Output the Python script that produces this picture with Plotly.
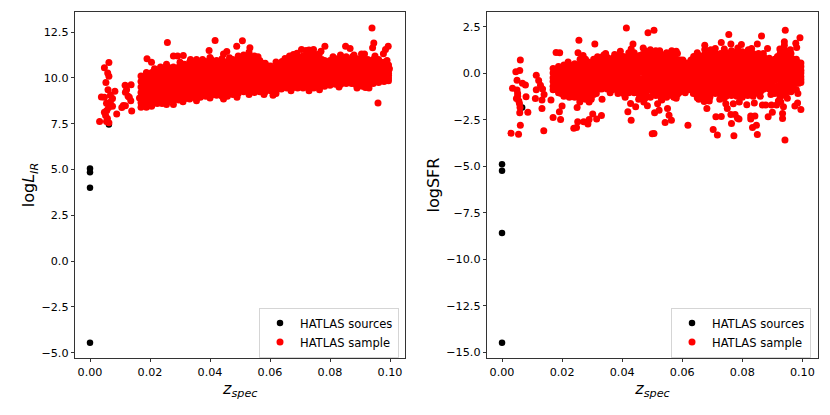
#!/usr/bin/env python3
"""HATLAS sample: logL_IR and logSFR against spectroscopic redshift."""

import plotly.graph_objects as go

W, H = 830, 415

# full catalogue, mostly hidden under the sample
z_src_lir = [0.0, 0.0, 0.0, 0.0, 0.0063]
lir_src = [5.05, 4.85, 4.0, -4.45, 7.45]
z_src_sfr = [0.0, 0.0, 0.0, 0.0, 0.0067]
sfr_src = [-4.9, -5.25, -8.6, -14.5, -1.85]

# dense band of the sample, one entry per redshift column
z_band = [
    0.0170, 0.0188, 0.0206, 0.0224, 0.0242, 0.0260, 0.0278, 0.0296, 0.0314, 0.0332,
    0.0350, 0.0368, 0.0386, 0.0404, 0.0422, 0.0440, 0.0458, 0.0476, 0.0494, 0.0512,
    0.0530, 0.0548, 0.0566, 0.0584, 0.0602, 0.0620, 0.0638, 0.0656, 0.0674, 0.0692,
    0.0710, 0.0728, 0.0746, 0.0764, 0.0782, 0.0800, 0.0818, 0.0836, 0.0854, 0.0872,
    0.0890, 0.0908, 0.0926, 0.0944, 0.0962, 0.0980, 0.0995,
]
lir_band = [
    [10.1, 9.8, 9.5, 9.2, 8.95, 8.65, 8.4],
    [10.3, 10.0, 9.7, 9.4, 9.1, 8.75, 8.4],
    [10.3, 10.0, 9.7, 9.45, 9.15, 8.8, 8.5],
    [10.3, 10.0, 9.75, 9.45, 9.2, 8.9, 8.6],
    [10.5, 10.2, 9.9, 9.6, 9.3, 9.0, 8.65],
    [10.6, 10.3, 10.0, 9.7, 9.4, 9.1, 8.75],
    [10.6, 10.25, 10.0, 9.7, 9.4, 9.05, 8.75],
    [10.6, 10.3, 10.0, 9.7, 9.4, 9.1, 8.8],
    [10.75, 10.4, 10.1, 9.8, 9.5, 9.2, 8.85],
    [10.85, 10.5, 10.15, 9.85, 9.5, 9.2, 8.85],
    [10.8, 10.45, 10.15, 9.85, 9.5, 9.2, 8.9],
    [10.85, 10.5, 10.2, 9.9, 9.55, 9.25, 8.95],
    [10.9, 10.55, 10.25, 9.95, 9.6, 9.3, 9.0],
    [11.0, 10.65, 10.3, 10.0, 9.7, 9.35, 9.05],
    [10.95, 10.6, 10.3, 10.0, 9.7, 9.35, 9.05],
    [10.8, 10.5, 10.2, 9.9, 9.6, 9.3, 9.0],
    [10.9, 10.55, 10.25, 9.95, 9.6, 9.3, 9.0],
    [11.0, 10.65, 10.35, 10.05, 9.7, 9.4, 9.1],
    [11.2, 10.85, 10.5, 10.15, 9.8, 9.5, 9.15],
    [11.25, 10.9, 10.55, 10.2, 9.9, 9.55, 9.25],
    [11.25, 10.9, 10.55, 10.2, 9.9, 9.55, 9.25],
    [11.2, 10.85, 10.5, 10.2, 9.85, 9.5, 9.2],
    [10.95, 10.65, 10.35, 10.1, 9.8, 9.5, 9.25],
    [10.8, 10.55, 10.3, 10.0, 9.75, 9.5, 9.25],
    [10.65, 10.4, 10.15, 9.95, 9.7, 9.5, 9.3],
    [10.6, 10.35, 10.15, 9.95, 9.7, 9.5, 9.3],
    [10.75, 10.5, 10.25, 10.05, 9.8, 9.6, 9.4],
    [10.95, 10.65, 10.4, 10.15, 9.9, 9.7, 9.45],
    [11.15, 10.85, 10.55, 10.25, 10.0, 9.7, 9.45],
    [11.1, 10.8, 10.5, 10.25, 10.0, 9.7, 9.45],
    [11.2, 10.9, 10.6, 10.3, 10.0, 9.75, 9.45],
    [11.35, 11.0, 10.7, 10.4, 10.05, 9.75, 9.45],
    [11.35, 11.0, 10.7, 10.4, 10.05, 9.75, 9.45],
    [11.3, 10.95, 10.65, 10.4, 10.1, 9.8, 9.55],
    [10.95, 10.7, 10.45, 10.25, 10.0, 9.8, 9.55],
    [10.95, 10.7, 10.5, 10.25, 10.05, 9.8, 9.6],
    [11.05, 10.8, 10.55, 10.35, 10.1, 9.9, 9.65],
    [11.1, 10.85, 10.6, 10.35, 10.1, 9.9, 9.65],
    [11.15, 10.9, 10.65, 10.4, 10.15, 9.95, 9.7],
    [11.0, 10.8, 10.55, 10.35, 10.15, 9.9, 9.7],
    [11.05, 10.8, 10.55, 10.3, 10.05, 9.8, 9.55],
    [11.1, 10.8, 10.55, 10.3, 10.05, 9.8, 9.55],
    [11.0, 10.8, 10.55, 10.3, 10.1, 9.85, 9.65],
    [11.0, 10.8, 10.55, 10.35, 10.1, 9.9, 9.7],
    [11.0, 10.8, 10.55, 10.35, 10.15, 9.95, 9.75],
    [10.85, 10.65, 10.5, 10.3, 10.1, 9.95, 9.8],
    [10.7, 10.55, 10.4, 10.25, 10.15, 10.0, 9.85],
]
sfr_band = [
    [0.25, 0.0, -0.25, -0.45, -0.7, -0.9],
    [0.35, 0.05, -0.2, -0.5, -0.8, -1.05],
    [0.43, 0.15, -0.15, -0.4, -0.7, -1.0, -1.25],
    [0.45, 0.15, -0.15, -0.45, -0.7, -1.0, -1.3],
    [0.5, 0.2, -0.1, -0.4, -0.7, -1.0, -1.3],
    [0.75, 0.4, 0.1, -0.25, -0.55, -0.85, -1.15, -1.4],
    [0.75, 0.45, 0.1, -0.2, -0.5, -0.8, -1.1, -1.4],
    [0.5, 0.2, -0.1, -0.4, -0.65, -1.0, -1.35],
    [0.55, 0.25, -0.05, -0.3, -0.6, -0.85, -1.1],
    [0.85, 0.55, 0.25, -0.05, -0.3, -0.6, -0.85],
    [0.85, 0.5, 0.25, -0.05, -0.3, -0.6, -0.85],
    [0.8, 0.5, 0.2, -0.05, -0.35, -0.65, -0.9],
    [0.9, 0.6, 0.3, 0.0, -0.3, -0.55, -0.85, -1.1],
    [0.9, 0.6, 0.3, 0.0, -0.3, -0.55, -0.85, -1.1],
    [1.1, 0.75, 0.45, 0.1, -0.2, -0.5, -0.8, -1.05],
    [1.1, 0.75, 0.45, 0.1, -0.2, -0.5, -0.75, -1.05],
    [0.95, 0.65, 0.35, 0.05, -0.3, -0.6, -0.9, -1.2],
    [1.2, 0.85, 0.5, 0.2, -0.15, -0.45, -0.75, -1.05, -1.35],
    [1.25, 0.9, 0.55, 0.2, -0.15, -0.5, -0.9, -1.3],
    [1.05, 0.75, 0.45, 0.15, -0.15, -0.45, -0.75, -1.0, -1.2],
    [1.0, 0.7, 0.4, 0.1, -0.2, -0.5, -0.8, -1.1, -1.35],
    [1.05, 0.7, 0.4, 0.1, -0.2, -0.5, -0.8, -1.05, -1.3],
    [1.05, 0.75, 0.4, 0.1, -0.2, -0.5, -0.75, -1.0, -1.2],
    [1.05, 0.7, 0.4, 0.1, -0.2, -0.45, -0.7, -0.95, -1.15],
    [0.7, 0.45, 0.15, -0.1, -0.35, -0.6, -0.85],
    [0.55, 0.3, 0.05, -0.2, -0.4, -0.65, -0.9],
    [0.9, 0.6, 0.3, 0.0, -0.25, -0.55, -0.8, -1.05],
    [0.95, 0.65, 0.35, 0.05, -0.25, -0.55, -0.85, -1.2],
    [1.0, 0.7, 0.35, 0.05, -0.3, -0.65, -1.0, -1.3],
    [1.05, 0.7, 0.4, 0.05, -0.3, -0.65, -1.0, -1.3],
    [1.05, 0.75, 0.45, 0.15, -0.2, -0.5, -0.8, -1.1],
    [1.05, 0.7, 0.4, 0.1, -0.2, -0.5, -0.85, -1.2],
    [1.1, 0.8, 0.45, 0.1, -0.2, -0.55, -0.9, -1.25],
    [1.2, 0.85, 0.5, 0.15, -0.2, -0.5, -0.85, -1.2],
    [1.15, 0.8, 0.45, 0.1, -0.25, -0.55, -0.9, -1.25],
    [1.15, 0.8, 0.45, 0.1, -0.25, -0.6, -0.95, -1.3],
    [1.05, 0.75, 0.4, 0.05, -0.25, -0.6, -0.9, -1.2],
    [1.05, 0.7, 0.35, 0.05, -0.3, -0.6, -0.9, -1.25],
    [1.05, 0.75, 0.45, 0.15, -0.15, -0.5, -0.8, -1.1],
    [0.85, 0.55, 0.3, 0.0, -0.25, -0.55, -0.85],
    [0.8, 0.5, 0.25, -0.05, -0.3, -0.6, -0.85],
    [0.75, 0.45, 0.15, -0.1, -0.4, -0.75, -1.1],
    [1.05, 0.75, 0.4, 0.1, -0.2, -0.6, -0.95, -1.3],
    [1.2, 0.85, 0.5, 0.2, -0.15, -0.5, -0.85, -1.2],
    [1.05, 0.75, 0.45, 0.15, -0.15, -0.45, -0.75, -1.0],
    [0.75, 0.5, 0.25, 0.0, -0.25, -0.55, -0.9],
    [0.55, 0.35, 0.15, 0.0, -0.2, -0.35, -0.5],
]

# second set of columns in between, so the band reads as solid
z_mid = [
    0.0179, 0.0197, 0.0215, 0.0233, 0.0251, 0.0269, 0.0287, 0.0305, 0.0323, 0.0341,
    0.0359, 0.0377, 0.0395, 0.0413, 0.0431, 0.0449, 0.0467, 0.0485, 0.0503, 0.0521,
    0.0539, 0.0557, 0.0575, 0.0593, 0.0611, 0.0629, 0.0647, 0.0665, 0.0683, 0.0701,
    0.0719, 0.0737, 0.0755, 0.0773, 0.0791, 0.0809, 0.0827, 0.0845, 0.0863, 0.0881,
    0.0899, 0.0917, 0.0935, 0.0953, 0.0971, 0.0988,
]
lir_mid = [
    [10.05, 9.75, 9.45, 9.15, 8.85, 8.55],
    [10.15, 9.85, 9.55, 9.25, 8.95, 8.6],
    [10.15, 9.85, 9.6, 9.3, 9.0, 8.7],
    [10.25, 9.95, 9.65, 9.35, 9.1, 8.8],
    [10.4, 10.1, 9.8, 9.5, 9.2, 8.85],
    [10.45, 10.15, 9.85, 9.55, 9.25, 8.9],
    [10.45, 10.15, 9.85, 9.55, 9.25, 8.95],
    [10.5, 10.2, 9.9, 9.6, 9.3, 9.0],
    [10.6, 10.3, 10.0, 9.65, 9.35, 9.05],
    [10.65, 10.3, 10.0, 9.7, 9.35, 9.05],
    [10.65, 10.35, 10.0, 9.7, 9.4, 9.05],
    [10.7, 10.35, 10.05, 9.75, 9.45, 9.15],
    [10.75, 10.45, 10.1, 9.8, 9.5, 9.2],
    [10.8, 10.45, 10.15, 9.85, 9.55, 9.2],
    [10.7, 10.4, 10.1, 9.8, 9.5, 9.2],
    [10.7, 10.4, 10.05, 9.75, 9.45, 9.15],
    [10.75, 10.45, 10.15, 9.8, 9.5, 9.2],
    [10.9, 10.55, 10.25, 9.9, 9.6, 9.3],
    [11.05, 10.7, 10.35, 10.0, 9.7, 9.35],
    [11.1, 10.7, 10.4, 10.05, 9.7, 9.4],
    [11.05, 10.7, 10.35, 10.05, 9.7, 9.35],
    [10.95, 10.6, 10.3, 10.0, 9.65, 9.35],
    [10.8, 10.45, 10.2, 9.9, 9.65, 9.4],
    [10.65, 10.45, 10.2, 9.95, 9.7, 9.45],
    [10.5, 10.25, 10.05, 9.85, 9.6, 9.4],
    [10.55, 10.3, 10.1, 9.9, 9.7, 9.5],
    [10.7, 10.45, 10.2, 9.95, 9.75, 9.5],
    [10.9, 10.6, 10.35, 10.05, 9.8, 9.55],
    [11.0, 10.7, 10.4, 10.15, 9.85, 9.6],
    [11.0, 10.7, 10.4, 10.15, 9.85, 9.6],
    [11.1, 10.8, 10.5, 10.2, 9.9, 9.6],
    [11.2, 10.85, 10.55, 10.2, 9.9, 9.6],
    [11.15, 10.85, 10.55, 10.25, 9.95, 9.65],
    [11.0, 10.7, 10.45, 10.2, 9.9, 9.7],
    [10.85, 10.6, 10.35, 10.15, 9.9, 9.7],
    [10.9, 10.65, 10.4, 10.2, 9.95, 9.75],
    [10.95, 10.7, 10.45, 10.2, 10.0, 9.8],
    [11.0, 10.75, 10.5, 10.25, 10.05, 9.8],
    [10.95, 10.7, 10.45, 10.25, 10.0, 9.8],
    [10.9, 10.65, 10.4, 10.2, 9.95, 9.7],
    [10.95, 10.65, 10.4, 10.2, 9.95, 9.7],
    [10.95, 10.7, 10.45, 10.2, 9.95, 9.7],
    [10.9, 10.65, 10.45, 10.2, 10.0, 9.8],
    [10.9, 10.65, 10.45, 10.25, 10.05, 9.85],
    [10.85, 10.65, 10.45, 10.25, 10.05, 9.85],
    [10.75, 10.55, 10.4, 10.2, 10.05, 9.9],
]
sfr_mid = [
    [0.15, -0.1, -0.35, -0.6, -0.85],
    [0.25, -0.05, -0.3, -0.6, -0.85, -1.1],
    [0.3, 0.0, -0.3, -0.55, -0.85, -1.15],
    [0.3, 0.0, -0.3, -0.55, -0.85, -1.15],
    [0.45, 0.1, -0.2, -0.55, -0.85, -1.15],
    [0.6, 0.25, -0.05, -0.4, -0.7, -1.0, -1.25],
    [0.6, 0.3, 0.0, -0.3, -0.6, -0.9, -1.2],
    [0.35, 0.05, -0.25, -0.5, -0.8, -1.15],
    [0.55, 0.25, -0.05, -0.3, -0.6, -0.85],
    [0.7, 0.4, 0.1, -0.2, -0.45, -0.7],
    [0.65, 0.35, 0.1, -0.2, -0.45, -0.7],
    [0.65, 0.35, 0.05, -0.2, -0.5, -0.75],
    [0.75, 0.45, 0.15, -0.15, -0.4, -0.7, -0.95],
    [0.85, 0.5, 0.2, -0.1, -0.4, -0.65, -0.95],
    [0.9, 0.6, 0.25, -0.05, -0.35, -0.65, -0.9],
    [0.85, 0.55, 0.2, -0.1, -0.4, -0.7, -1.0],
    [1.0, 0.65, 0.35, 0.05, -0.3, -0.6, -0.9, -1.2],
    [1.05, 0.7, 0.35, 0.05, -0.3, -0.6, -0.9, -1.25],
    [1.0, 0.7, 0.35, 0.05, -0.3, -0.65, -1.0],
    [0.9, 0.6, 0.3, 0.0, -0.3, -0.6, -0.9, -1.15],
    [0.85, 0.55, 0.25, -0.05, -0.35, -0.65, -0.95, -1.2],
    [0.9, 0.55, 0.25, -0.05, -0.35, -0.65, -0.9, -1.15],
    [0.9, 0.55, 0.25, -0.05, -0.35, -0.6, -0.85, -1.1],
    [0.7, 0.45, 0.2, -0.05, -0.3, -0.55, -0.8, -1.0],
    [0.55, 0.3, 0.05, -0.25, -0.45, -0.7],
    [0.7, 0.4, 0.15, -0.1, -0.35, -0.6, -0.85],
    [0.8, 0.5, 0.2, -0.1, -0.4, -0.7, -1.0],
    [0.85, 0.5, 0.2, -0.1, -0.4, -0.75, -1.1],
    [0.85, 0.55, 0.2, -0.15, -0.45, -0.8, -1.15],
    [0.9, 0.55, 0.25, -0.05, -0.4, -0.7, -1.05],
    [0.9, 0.6, 0.25, -0.05, -0.35, -0.65, -1.0],
    [0.9, 0.55, 0.25, -0.05, -0.35, -0.7, -1.05],
    [1.0, 0.65, 0.3, -0.05, -0.35, -0.7, -1.05],
    [1.0, 0.65, 0.3, -0.05, -0.4, -0.7, -1.05],
    [0.95, 0.6, 0.25, -0.05, -0.4, -0.75, -1.1],
    [0.95, 0.6, 0.25, -0.1, -0.4, -0.75, -1.1],
    [0.9, 0.55, 0.2, -0.1, -0.45, -0.75, -1.05],
    [0.9, 0.55, 0.25, -0.05, -0.4, -0.7, -1.0],
    [0.8, 0.5, 0.2, -0.05, -0.35, -0.65, -0.95],
    [0.7, 0.4, 0.15, -0.15, -0.4, -0.7],
    [0.65, 0.35, 0.05, -0.2, -0.5, -0.85],
    [0.9, 0.6, 0.3, 0.0, -0.3, -0.7, -1.05],
    [1.0, 0.65, 0.3, 0.0, -0.35, -0.7, -1.05],
    [1.0, 0.65, 0.35, 0.05, -0.3, -0.65, -0.95],
    [0.75, 0.5, 0.25, 0.0, -0.3, -0.6, -0.85],
    [0.55, 0.35, 0.15, -0.05, -0.3, -0.55],
]

# stragglers around the band and the low-z clump
z_lir_extra = [
    0.0032, 0.0089, 0.0063, 0.0055, 0.0058, 0.0052, 0.0048, 0.0056, 0.0062, 0.0075,
    0.0068, 0.0055, 0.0038, 0.0048, 0.0075, 0.0083, 0.0053, 0.0063, 0.0059, 0.0048,
    0.0063, 0.0068, 0.0060, 0.0111, 0.0117, 0.0137, 0.0122, 0.0131, 0.0139, 0.0118,
    0.0106, 0.0127, 0.0136, 0.0118, 0.0165, 0.0190, 0.0205, 0.0258, 0.0278, 0.0292,
    0.0311, 0.0397, 0.0417, 0.0445, 0.0456, 0.0489, 0.0508, 0.0533, 0.0278, 0.0346,
    0.0400, 0.0620, 0.0650, 0.0678, 0.0705, 0.0730, 0.0783, 0.0852, 0.0867, 0.0940,
    0.0946, 0.0942, 0.0960, 0.0994, 0.0985, 0.0978, 0.0930, 0.0918, 0.0990, 0.0998,
    0.0915, 0.0880, 0.0620, 0.0205, 0.0240,
    0.0215, 0.0235, 0.0255, 0.0300, 0.0335, 0.0355, 0.0375, 0.0440, 0.0465, 0.0530,
    0.0560, 0.0640, 0.0665, 0.0690, 0.0720, 0.0745, 0.0770, 0.0810, 0.0835, 0.0875,
    0.0905, 0.0950, 0.0255, 0.0310, 0.0355, 0.0400, 0.0445, 0.0490, 0.0530, 0.0580,
    0.0610, 0.0670, 0.0730, 0.0765, 0.0830, 0.0890, 0.0920,
]
lir_extra = [
    7.62, 8.03, 7.55, 7.62, 7.78, 7.95, 8.12, 8.22, 8.38, 8.45,
    8.68, 8.62, 8.96, 8.95, 8.88, 9.27, 9.75, 10.84, 10.27, 10.55,
    10.09, 9.05, 9.35, 8.5, 9.6, 9.63, 9.35, 8.95, 8.2, 9.22,
    8.38, 9.0, 8.75, 8.48, 8.9, 11.05, 10.85, 11.93, 11.2, 11.2,
    11.22, 11.5, 12.04, 11.3, 11.44, 11.73, 12.03, 11.64, 8.55, 9.1,
    11.12, 10.87, 11.06, 11.28, 11.55, 11.52, 11.73, 11.73, 11.6, 12.73,
    11.91, 11.64, 8.63, 11.73, 11.55, 11.32, 9.45, 9.48, 10.95, 10.5,
    11.3, 11.25, 9.15, 8.45, 8.6,
    10.5, 10.6, 10.75, 10.85, 11.0, 11.0, 11.0, 11.05, 11.1, 11.4,
    11.15, 10.9, 11.2, 11.35, 11.5, 11.55, 11.45, 11.15, 11.25, 11.15,
    11.3, 11.2, 8.55, 8.7, 8.75, 8.9, 8.85, 8.95, 9.1, 9.1,
    9.05, 9.3, 9.3, 9.35, 9.5, 9.45, 9.5,
]
z_sfr_extra = [
    0.0061, 0.0059, 0.0046, 0.0050, 0.0078, 0.0068, 0.0035, 0.0050, 0.0052, 0.0048,
    0.0058, 0.0056, 0.0052, 0.0060, 0.0080, 0.0059, 0.0086, 0.0061, 0.0030, 0.0055,
    0.0139, 0.0114, 0.0122, 0.0128, 0.0135, 0.0114, 0.0111, 0.0133, 0.0140, 0.0133,
    0.0163, 0.0180, 0.0192, 0.0256, 0.0309, 0.0253, 0.0414, 0.0486, 0.0506, 0.0436,
    0.0394, 0.0318, 0.0339, 0.0200, 0.0191, 0.0170, 0.0195, 0.0250, 0.0239, 0.0248,
    0.0252, 0.0272, 0.0286, 0.0290, 0.0302, 0.0315, 0.0331, 0.0333, 0.0297, 0.0259,
    0.0419, 0.0430, 0.0428, 0.0445, 0.0472, 0.0484, 0.0500, 0.0508, 0.0518, 0.0523,
    0.0551, 0.0556, 0.0564, 0.0543, 0.0506, 0.0619, 0.0703, 0.0717, 0.0772, 0.0764,
    0.0712, 0.0730, 0.0682, 0.0762, 0.0776, 0.0789, 0.0784, 0.0828, 0.0842, 0.0828,
    0.0834, 0.0847, 0.0850, 0.0886, 0.0900, 0.0934, 0.0934, 0.0937, 0.0942, 0.0975,
    0.0995, 0.0984, 0.0867, 0.0878, 0.0897, 0.0914, 0.0750, 0.0745, 0.0739, 0.0673,
    0.0650, 0.0637, 0.0589, 0.0572, 0.0532, 0.0675, 0.0675, 0.0710, 0.0730, 0.0755,
    0.0762, 0.0797, 0.0850, 0.0831, 0.0884, 0.0864, 0.0943, 0.0940, 0.0940, 0.0992,
    0.0978, 0.0981, 0.0580, 0.0548, 0.0512, 0.0895, 0.0950, 0.0928,
    0.0220, 0.0270, 0.0305, 0.0345, 0.0375, 0.0430, 0.0470, 0.0525, 0.0565, 0.0650,
    0.0695, 0.0740, 0.0785, 0.0820, 0.0870, 0.0925, 0.0960, 0.0290, 0.0360, 0.0410,
    0.0455, 0.0580, 0.0610, 0.0655, 0.0690, 0.0725, 0.0860, 0.0900, 0.0920, 0.0985,
    0.0770, 0.0790, 0.0815, 0.0840,
]
sfr_extra = [
    0.70, 0.14, 0.07, -0.38, -0.64, -0.55, -0.82, -0.91, -1.1, -1.36,
    -1.63, -1.5, -1.25, -1.85, -1.27, -2.13, -2.11, -2.8, -3.23, -3.28,
    -3.1, -0.11, -0.4, -0.65, -0.85, -0.9, -1.36, -1.45, -1.15, -1.9,
    -1.45, 1.11, 1.09, 1.77, 1.56, 1.09, 2.42, 2.17, 2.31, 1.56,
    1.18, 0.88, 0.97, -1.77, -2.08, -2.38, -2.49, -1.85, -2.97, -2.92,
    -2.62, -2.62, -2.74, -2.49, -2.2, -2.47, -2.28, -1.4, -1.4, -1.55,
    -2.08, -2.54, -1.63, -1.81, -1.55, -1.75, -3.26, -2.13, -1.65, -1.99,
    -1.9, -2.26, -2.53, -2.65, -3.24, -2.8, -3.03, -3.33, -3.37, -2.71,
    -2.35, -2.33, -1.9, -2.22, -2.22, -2.47, -2.42, -2.31, -2.31, -2.47,
    -2.92, -2.8, -3.3, -2.35, -2.11, -2.44, -2.17, -1.81, -3.6, -1.77,
    -1.95, -1.6, -1.72, -1.72, -1.72, -1.72, -1.9, -1.65, -1.35, -1.53,
    -1.32, -1.1, -1.05, -1.3, -1.45, 1.5, 1.27, 1.33, 1.65, 2.08,
    1.56, 1.54, 1.56, 1.33, 1.33, 2.0, 2.31, 1.68, 1.5, 1.9,
    1.6, 1.38, 1.18, 1.09, 1.2, -1.15, -1.35, -1.55,
    0.6, 0.95, 0.75, 1.05, 1.0, 1.3, 1.35, 1.2, 1.2, 1.1,
    1.25, 1.3, 1.35, 1.25, 1.05, 1.3, 1.25, -1.55, -1.05, -1.3,
    -1.4, -1.35, -1.05, -1.4, -1.5, -1.4, -1.25, -1.05, -1.5, -1.1,
    -1.65, -1.55, -1.7, -1.6,
]

# per-panel axis setup
x_ticks = [0.0, 0.02, 0.04, 0.06, 0.08, 0.10]
x_labels = ["0.00", "0.02", "0.04", "0.06", "0.08", "0.10"]
lir_ticks = [-5.0, -2.5, 0.0, 2.5, 5.0, 7.5, 10.0, 12.5]
lir_labels = ["−5.0", "−2.5", "0.0", "2.5", "5.0", "7.5", "10.0", "12.5"]
sfr_ticks = [-15.0, -12.5, -10.0, -7.5, -5.0, -2.5, 0.0, 2.5]
sfr_labels = ["−15.0", "−12.5", "−10.0", "−7.5", "−5.0", "−2.5", "0.0", "2.5"]


def flatten(zs, rows):
    xs, ys = [], []
    for z, row in zip(zs, rows):
        xs += [z] * len(row)
        ys += row
    return xs, ys


def add_panel(fig, n, z_src, y_src, z_extra, y_extra, band, mid, legend):
    xs, ys = flatten(z_band, band)
    xm, ym = flatten(z_mid, mid)
    kw = dict(xaxis="x" if n == 1 else "x2", yaxis="y" if n == 1 else "y2",
              mode="markers", legend=legend)
    fig.add_trace(go.Scatter(x=z_src, y=y_src, name="HATLAS sources",
                             marker=dict(color="black", size=6.5), **kw))
    fig.add_trace(go.Scatter(x=xs + xm + z_extra, y=ys + ym + y_extra, name="HATLAS sample",
                             marker=dict(color="#ff0000", size=7), **kw))


def axis(domain, ticks, labels, rng, title, anchor):
    return dict(domain=domain, range=rng, tickvals=ticks, ticktext=labels, anchor=anchor,
                title=dict(text=title, font=dict(size=16), standoff=2),
                showgrid=False, zeroline=False, showline=True, mirror=True,
                linecolor="#333333", linewidth=1, ticks="outside", ticklen=3.5,
                tickwidth=0.8, tickcolor="#333333", tickfont=dict(size=11.2))


def legend_box(x):
    return dict(x=x, y=1 - 357.5 / H, xanchor="right", yanchor="bottom",
                bgcolor="rgba(255,255,255,0.8)", bordercolor="#d5d5d5", borderwidth=1,
                font=dict(size=11.5), itemsizing="trace", tracegroupgap=0)


fig = go.Figure()
add_panel(fig, 1, z_src_lir, lir_src, z_lir_extra, lir_extra, lir_band, lir_mid, "legend")
add_panel(fig, 2, z_src_sfr, sfr_src, z_sfr_extra, sfr_extra, sfr_band, sfr_mid, "legend2")

y_dom = [1 - 357.7 / H, 1 - 12.3 / H]
x_rng = [-0.0049, 0.1051]
fig.update_layout(
    width=W, height=H,
    margin=dict(l=0, r=0, t=0, b=0),
    template="none",
    paper_bgcolor="white", plot_bgcolor="white",
    font=dict(family="DejaVu Sans", color="black"),
    xaxis=axis([75.3 / W, 405.3 / W], x_ticks, x_labels, x_rng, "<i>z<sub>spec</sub></i>", "y"),
    yaxis=axis(y_dom, lir_ticks, lir_labels, [-5.27, 13.58], "log<i>L<sub>IR</sub></i>", "x"),
    xaxis2=axis([487.3 / W, 817.7 / W], x_ticks, x_labels, x_rng, "<i>z<sub>spec</sub></i>", "y2"),
    yaxis2=axis(y_dom, sfr_ticks, sfr_labels, [-15.3, 3.27], "logSFR", "x2"),
    legend=legend_box(399 / W),
    legend2=legend_box(811 / W),
)

fig.write_html("out.html", config={"displayModeBar": False},
               post_script="document.body.style.margin='0';")
